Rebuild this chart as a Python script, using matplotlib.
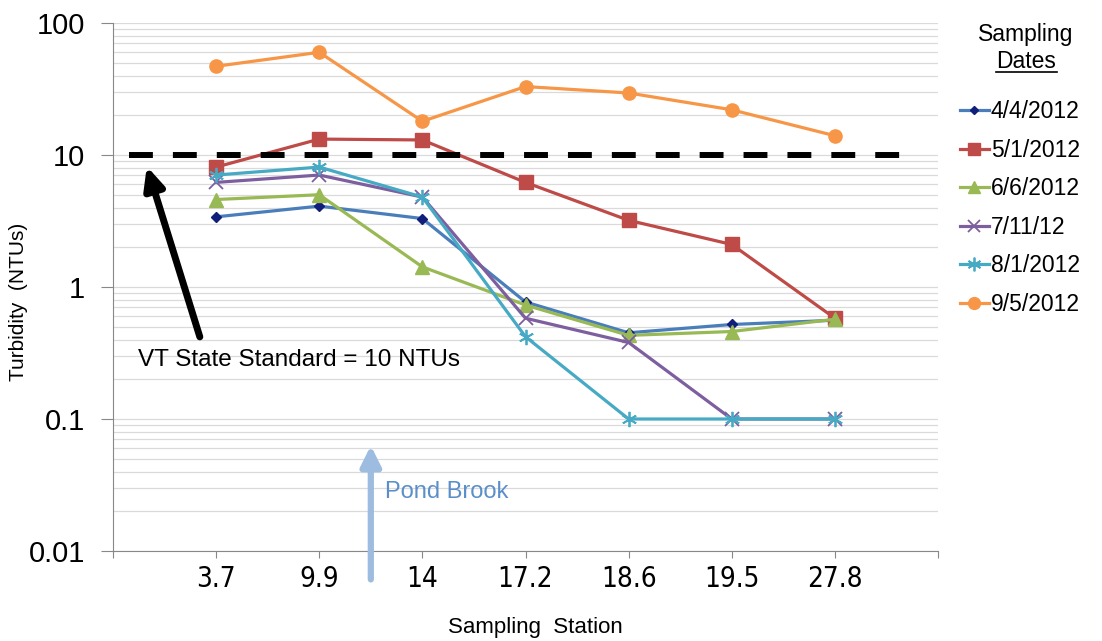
import matplotlib
matplotlib.use("Agg")
import matplotlib.pyplot as plt
from matplotlib.lines import Line2D

plt.rcParams['font.family'] = ['Liberation Sans', 'DejaVu Sans']

stations = ["3.7", "9.9", "14", "17.2", "18.6", "19.5", "27.8"]
dates = ["4/4/2012", "5/1/2012", "6/6/2012", "7/11/12", "8/1/2012", "9/5/2012"]
d_0404 = [3.4, 4.1, 3.3, 0.77, 0.45, 0.52, 0.56]
d_0501 = [8.1, 13.2, 13.0, 6.2, 3.2, 2.1, 0.58]
d_0606 = [4.6, 5.0, 1.42, 0.73, 0.43, 0.46, 0.57]
d_0711 = [6.2, 7.05, 4.8, 0.58, 0.38, 0.1, 0.1]
d_0801 = [7.05, 8.1, 4.8, 0.42, 0.1, 0.1, 0.1]
d_0905 = [47, 60, 18, 33, 29.5, 22, 14]
standard = 10

series = [d_0404, d_0501, d_0606, d_0711, d_0801, d_0905]
line_colors = ["#4A7EBB", "#BE4B48", "#98B954", "#7D5FA0", "#46AAC5", "#F79646"]
marker_face = ["#0F1F7A", "#BE4B48", "#98B954", "#7D5FA0", "#46AAC5", "#F79646"]
markers = ["D", "s", "^", "x", (6, 2, 0), "o"]
msizes = [5, 9.5, 9.5, 10, 11, 9.5]

fig = plt.figure(figsize=(11.02, 6.41), dpi=100)
ax = fig.add_axes([113/1102, 1-551/641, (938-113)/1102, (551-23)/641])

x = list(range(1, len(stations)+1))
handles = []
for s, lab, lc, mf, mk, ms in zip(series, dates, line_colors, marker_face, markers, msizes):
    h, = ax.plot(x, s, color=lc, lw=2.3, marker=mk, markersize=ms,
                 markerfacecolor=mf, markeredgecolor=mf,
                 markeredgewidth=1.3 if mk in ("x", (6, 2, 0)) else 1.0,
                 label=lab, zorder=3)
    handles.append(h)

ax.plot([0.155, 7.64], [standard, standard], color="black", lw=4.3, dashes=(4.0, 3.35),
        solid_capstyle="butt", dash_capstyle="butt", zorder=4)

ax.set_yscale("log")
ax.set_ylim(0.01, 100)
ax.set_xlim(0, 8)
ax.set_xticks([0, 1, 2, 3, 4, 5, 6, 7, 8])
ax.set_xticklabels([""] + stations + [""], family=['DejaVu Sans'], fontstretch="condensed", fontsize=20)
ax.tick_params(axis="x", length=5, pad=5, color="#888888")
ax.set_yticks([0.01, 0.1, 1, 10, 100])
ax.set_yticklabels(["0.01", "0.1", "1", "10", "100"], fontsize=21)
ax.tick_params(axis="y", which="major", length=9, color="#888888", pad=11)
ax.tick_params(axis="y", which="minor", length=0)
ax.grid(True, which="both", axis="y", color="#DADADA", lw=0.9)
ax.set_axisbelow(True)
for sp in ["top", "right"]:
    ax.spines[sp].set_visible(False)
ax.spines["left"].set_color("#888888")
ax.spines["bottom"].set_color("#888888")

fig.text(535/1102, 1-627/641, "Sampling  Station", fontsize=16, ha="center", va="center")
fig.text(19/1102, 1-302/641, "Turbidity  (NTUs)", fontsize=15, ha="center", va="center", rotation=90)

# annotations
ax.annotate("", xy=(0.32, 8.6), xytext=(0.85, 0.40),
            arrowprops=dict(arrowstyle="-|>,head_length=1.3,head_width=0.6", color="black", lw=5))
ax.text(0.24, 0.28, "VT State Standard = 10 NTUs", fontsize=17.5, va="center", ha="left")
ax.annotate("", xy=(2.5, 0.066), xytext=(2.5, 0.0058), annotation_clip=False,
            arrowprops=dict(arrowstyle="-|>,head_length=1.2,head_width=0.6", color="#9DBCE0", lw=4.5))
ax.text(2.64, 0.028, "Pond Brook", fontsize=17, color="#5B8FC9", va="center", ha="left")

# legend
fig.text(1026/1102, 1-34/641, "Sampling", fontsize=16.5, ha="center", va="center")
fig.text(1026/1102, 1-61/641, "Dates", fontsize=16.5, ha="center", va="center")
fig.add_artist(Line2D([996/1102, 1057/1102], [1-72/641, 1-72/641], color="black", lw=1.2))
fig.legend(handles=handles, loc="upper left", bbox_to_anchor=(960/1102, 1-100/641),
           frameon=False, fontsize=16.5, handlelength=1.25, handletextpad=0.1,
           labelspacing=0.68, borderaxespad=0, borderpad=0, markerscale=0.9)

fig.savefig("out.png", dpi=100)
